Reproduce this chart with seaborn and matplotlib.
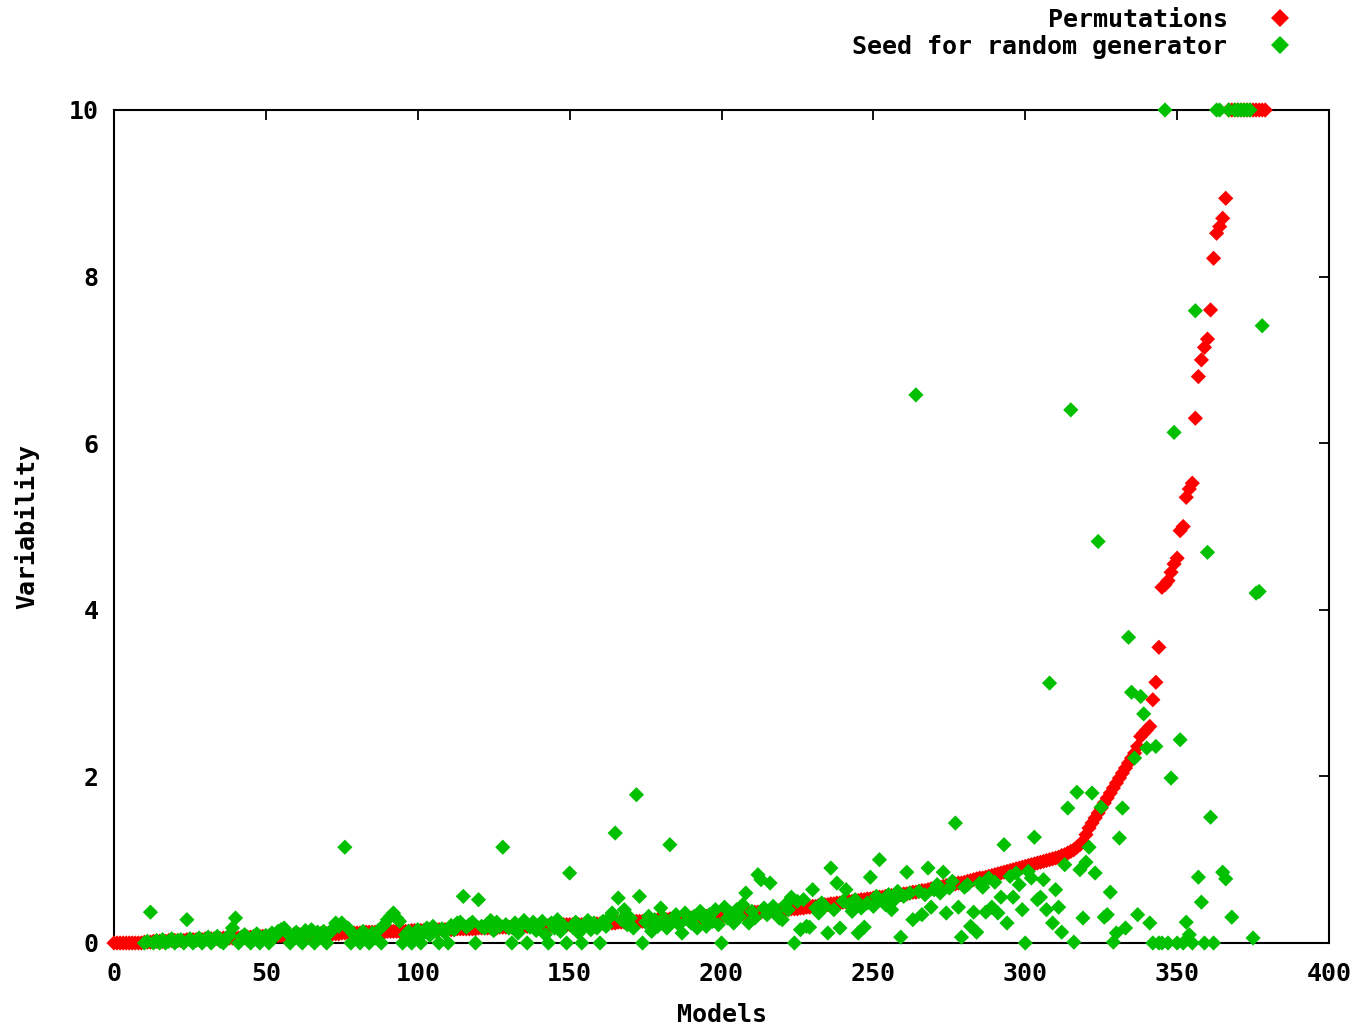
import numpy as np
import pandas as pd
import matplotlib
matplotlib.use("Agg")
import matplotlib.pyplot as plt
import seaborn as sns

nan = np.nan

# Permutations (sorted variability per model)
perm = [
    0, 0, 0, 0, 0, 0, 0, 0, 0, 0,
    0.01, 0.01, 0.01, 0.02, 0.02, 0.02, 0.02, 0.02, 0.03, 0.03,
    0.03, 0.03, 0.03, 0.03, 0.04, 0.04, 0.04, 0.04, 0.04, 0.04,
    0.05, 0.05, 0.05, 0.05, 0.05, 0.05, 0.06, 0.06, 0.06, 0.06,
    0.06, 0.06, 0.07, 0.07, 0.07, 0.07, 0.07, 0.08, 0.08, 0.08,
    0.08, 0.08, 0.08, 0.09, 0.09, 0.09, 0.09, 0.09, 0.09, 0.09,
    0.10, 0.10, 0.10, 0.10, 0.10, 0.10, 0.10, 0.11, 0.11, 0.11,
    0.11, 0.11, 0.11, 0.11, 0.11, 0.12, 0.12, 0.12, 0.12, 0.12,
    0.12, 0.12, 0.12, 0.13, 0.13, 0.13, 0.13, 0.13, 0.13, 0.13,
    0.14, 0.14, 0.14, 0.14, 0.14, 0.14, 0.14, 0.14, 0.15, 0.15,
    0.15, 0.15, 0.15, 0.15, 0.15, 0.15, 0.16, 0.16, 0.16, 0.16,
    0.16, 0.16, 0.16, 0.17, 0.17, 0.17, 0.17, 0.17, 0.17, 0.17,
    0.18, 0.18, 0.18, 0.18, 0.18, 0.18, 0.18, 0.19, 0.19, 0.19,
    0.19, 0.19, 0.19, 0.19, 0.20, 0.20, 0.20, 0.20, 0.20, 0.20,
    0.20, 0.21, 0.21, 0.21, 0.21, 0.21, 0.21, 0.21, 0.22, 0.22,
    0.22, 0.22, 0.22, 0.22, 0.22, 0.23, 0.23, 0.23, 0.23, 0.23,
    0.23, 0.24, 0.24, 0.24, 0.24, 0.24, 0.25, 0.25, 0.25, 0.25,
    0.25, 0.26, 0.26, 0.26, 0.26, 0.27, 0.27, 0.27, 0.27, 0.28,
    0.28, 0.28, 0.28, 0.29, 0.29, 0.29, 0.29, 0.30, 0.30, 0.30,
    0.30, 0.31, 0.31, 0.31, 0.31, 0.32, 0.32, 0.32, 0.32, 0.33,
    0.33, 0.33, 0.34, 0.34, 0.34, 0.35, 0.35, 0.35, 0.36, 0.36,
    0.36, 0.37, 0.37, 0.37, 0.38, 0.38, 0.38, 0.39, 0.39, 0.39,
    0.40, 0.40, 0.40, 0.41, 0.41, 0.41, 0.42, 0.42, 0.43, 0.43,
    0.44, 0.44, 0.45, 0.45, 0.46, 0.46, 0.47, 0.47, 0.48, 0.48,
    0.49, 0.49, 0.50, 0.50, 0.51, 0.51, 0.52, 0.52, 0.53, 0.53,
    0.54, 0.54, 0.55, 0.55, 0.56, 0.56, 0.57, 0.57, 0.58, 0.58,
    0.59, 0.59, 0.60, 0.61, 0.61, 0.62, 0.63, 0.63, 0.64, 0.65,
    0.66, 0.66, 0.67, 0.68, 0.69, 0.69, 0.70, 0.71, 0.72, 0.72,
    0.73, 0.74, 0.75, 0.76, 0.77, 0.78, 0.78, 0.79, 0.80, 0.81,
    0.82, 0.83, 0.84, 0.85, 0.86, 0.87, 0.88, 0.89, 0.90, 0.91,
    0.92, 0.93, 0.94, 0.95, 0.96, 0.97, 0.98, 0.99, 1.00, 1.01,
    1.02, 1.03, 1.05, 1.06, 1.08, 1.10, 1.12, 1.15, 1.18, 1.22,
    1.30, 1.38, 1.44, 1.50, 1.56, 1.62, 1.68, 1.74, 1.80, 1.86,
    1.92, 1.98, 2.04, 2.10, 2.16, 2.22, 2.28, 2.36, 2.48, 2.52,
    2.56, 2.60, 2.92, 3.13, 3.55, 4.27, 4.30, 4.35, 4.45, 4.55,
    4.62, 4.95, 5.00, 5.35, 5.45, 5.52, 6.30, 6.80, 7.00, 7.15,
    7.25, 7.60, 8.22, 8.52, 8.60, 8.70, 8.94, 10, 10, 10,
    10, 10, 10, 10, 10, 10, 10, 10, 10, 10,
]

# Seed for random generator (variability per model, same model order)
seed = [
    nan, nan, nan, nan, nan, nan, nan, nan, nan, nan,
    0.0, 0.02, 0.37, 0.0, 0.03, 0.0, 0.04, 0.0, 0.02, 0.05,
    0.0, 0.03, 0.04, 0.0, 0.28, 0.05, 0.0, 0.03, 0.06, 0.0,
    0.04, 0.07, 0.0, 0.05, 0.08, 0.02, 0.0, 0.06, 0.09, 0.18,
    0.30, 0.0, 0.07, 0.10, 0.04, 0.0, 0.08, 0.11, 0.0, 0.06,
    0.09, 0.0, 0.12, 0.08, 0.14, 0.16, 0.18, 0.12, 0.0, 0.10,
    0.13, 0.07, 0.0, 0.15, 0.11, 0.16, 0.0, 0.13, 0.09, 0.14,
    0.0, 0.12, 0.17, 0.24, 0.20, 0.24, 1.15, 0.18, 0.0, 0.10,
    0.05, 0.0, 0.14, 0.08, 0.0, 0.12, 0.06, 0.15, 0.0, 0.22,
    0.28, 0.32, 0.36, 0.30, 0.26, 0.0, 0.10, 0.14, 0.0, 0.08,
    0.16, 0.0, 0.12, 0.18, 0.09, 0.20, 0.14, 0.0, 0.17, 0.12,
    0.0, 0.21, 0.16, 0.24, 0.25, 0.56, 0.19, 0.22, 0.25, 0.0,
    0.52, 0.20, 0.18, 0.23, 0.27, 0.15, 0.25, 0.20, 1.15, 0.22,
    0.18, 0.0, 0.24, 0.12, 0.21, 0.27, 0.0, 0.19, 0.25, 0.15,
    0.22, 0.26, 0.10, 0.0, 0.24, 0.18, 0.28, 0.14, 0.21, 0.0,
    0.84, 0.19, 0.25, 0.12, 0.0, 0.22, 0.27, 0.16, 0.24, 0.18,
    0.0, 0.26, 0.20, 0.30, 0.36, 1.32, 0.54, 0.28, 0.40, 0.22,
    0.30, 0.18, 1.78, 0.56, 0.0, 0.25, 0.32, 0.14, 0.28, 0.20,
    0.42, 0.30, 0.18, 1.18, 0.26, 0.34, 0.22, 0.12, 0.36, 0.28,
    0.24, 0.32, 0.18, 0.38, 0.30, 0.20, 0.34, 0.26, 0.40, 0.22,
    0.0, 0.43, 0.30, 0.36, 0.24, 0.40, 0.32, 0.46, 0.60, 0.24,
    0.38, 0.30, 0.82, 0.76, 0.42, 0.34, 0.72, 0.44, 0.38, 0.30,
    0.28, 0.46, 0.40, 0.55, 0.0, 0.50, 0.16, 0.52, 0.20, 0.19,
    0.64, 0.42, 0.36, 0.48, 0.44, 0.12, 0.90, 0.40, 0.72, 0.18,
    0.50, 0.64, 0.46, 0.38, 0.52, 0.12, 0.42, 0.19, 0.48, 0.79,
    0.44, 0.56, 1.00, 0.50, 0.46, 0.58, 0.40, 0.52, 0.62, 0.07,
    0.56, 0.85, 0.60, 0.28, 6.58, 0.62, 0.34, 0.58, 0.90, 0.43,
    0.64, 0.70, 0.60, 0.85, 0.36, 0.66, 0.74, 1.44, 0.43, 0.07,
    0.67, 0.70, 0.20, 0.37, 0.13, 0.72, 0.67, 0.37, 0.78, 0.43,
    0.73, 0.36, 0.55, 1.18, 0.24, 0.80, 0.55, 0.84, 0.70, 0.40,
    0.0, 0.86, 0.78, 1.27, 0.52, 0.55, 0.76, 0.40, 3.12, 0.24,
    0.64, 0.43, 0.13, 0.94, 1.62, 6.40, 0.01, 1.81, 0.88, 0.30,
    0.97, 1.15, 1.80, 0.84, 4.82, 1.63, 0.31, 0.34, 0.61, 0.01,
    0.12, 1.26, 1.62, 0.18, 3.67, 3.01, 2.22, 0.34, 2.96, 2.75,
    2.34, 0.24, 0.0, 2.36, 0.0, 0.0, 10.0, 0.0, 1.98, 6.13,
    0.0, 2.44, 0.0, 0.25, 0.10, 0.0, 7.59, 0.79, 0.49, 0.0,
    4.69, 1.51, 0.0, 10.0, 10.0, 0.85, 0.77, 10.0, 0.31, 10.0,
    10.0, 10.0, 10.0, 10.0, 10.0, 0.06, 4.20, 4.22, 7.41, nan,
]

series_names = ["Permutations", "Seed for random generator"]
series_colors = ["#ff0000", "#00c000"]
x_ticks = [0, 50, 100, 150, 200, 250, 300, 350, 400]
y_ticks = [0, 2, 4, 6, 8, 10]

models = np.arange(len(perm))
df = pd.concat([
    pd.DataFrame({"Models": models, "Variability": perm, "series": series_names[0]}),
    pd.DataFrame({"Models": models, "Variability": seed, "series": series_names[1]}),
], ignore_index=True).dropna()

sns.set_theme(style="white")
font = "DejaVu Sans Mono"
plt.rcParams["font.family"] = [font, "DejaVu Sans"]
plt.rcParams["font.weight"] = "bold"

fig = plt.figure(figsize=(13.61, 10.26), dpi=100)
ax = fig.add_axes([114 / 1361, 1 - 943 / 1026, (1329 - 114) / 1361, (943 - 110) / 1026])

sns.scatterplot(data=df, x="Models", y="Variability", hue="series",
                hue_order=series_names, palette=dict(zip(series_names, series_colors)),
                marker="D", s=60, linewidth=0, ax=ax, clip_on=False, legend=False, zorder=3)

ax.set_xlim(0, 400)
ax.set_ylim(0, 10)
ax.set_xticks(x_ticks)
ax.set_yticks(y_ticks)
ax.set_xticklabels([str(t) for t in x_ticks])
ax.set_yticklabels([str(t) for t in y_ticks])
ax.tick_params(axis="both", direction="in", length=7, width=1.3, color="black",
               labelsize=18, top=True, right=True, labelcolor="black")
ax.tick_params(axis="x", pad=14)
ax.tick_params(axis="y", pad=11)
for lab in ax.get_xticklabels() + ax.get_yticklabels():
    lab.set_fontweight("bold")
for sp in ax.spines.values():
    sp.set_visible(True)
    sp.set_color("black")
    sp.set_linewidth(1.5)
    sp.set_zorder(2)

ax.set_xlabel("Models", fontsize=18, fontweight="bold", color="black", labelpad=12)
ax.set_ylabel("Variability", fontsize=18, fontweight="bold", color="black", labelpad=21)

handles = [plt.Line2D([], [], linestyle="none", marker="D", markersize=9.5,
                      markerfacecolor=c, markeredgewidth=0) for c in series_colors]
leg = fig.legend(handles, series_names, loc="upper right", bbox_to_anchor=(1305 / 1361, 0.992),
                 frameon=False, markerfirst=False, fontsize=18, handletextpad=1.1,
                 labelspacing=0.1, borderpad=0, borderaxespad=0, handlelength=2.0)
for t in leg.get_texts():
    t.set_fontweight("bold")
    t.set_color("black")

fig.savefig("out.png", dpi=100, facecolor="white")
